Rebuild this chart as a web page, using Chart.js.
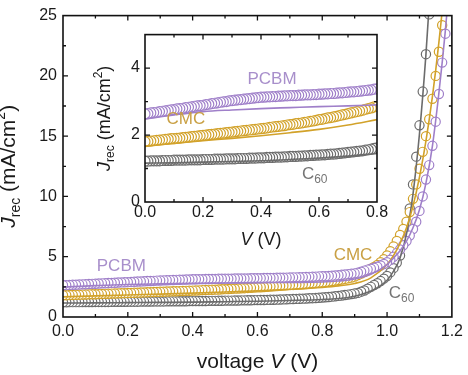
<!DOCTYPE html>
<html>
<head>
<meta charset="utf-8">
<script src="https://cdn.jsdelivr.net/npm/chart.js@4.4.0/dist/chart.umd.min.js"></script>
<style>
  html, body { margin: 0; padding: 0; background: #fff; }
  #wrap { position: relative; width: 468px; height: 375px; overflow: hidden; }
  #main { position: absolute; left: 0; top: 0; }
  #inset { position: absolute; left: 80px; top: 20px; }
</style>
</head>
<body>
<div id="wrap">
  <canvas id="main" width="468" height="375"></canvas>
  <canvas id="inset" width="320" height="250"></canvas>
</div>
<script>
// measured points, 0.01 V apart
const voltage = [
  0.00, 0.01, 0.02, 0.03, 0.04, 0.05, 0.06, 0.07, 0.08, 0.09,
  0.10, 0.11, 0.12, 0.13, 0.14, 0.15, 0.16, 0.17, 0.18, 0.19,
  0.20, 0.21, 0.22, 0.23, 0.24, 0.25, 0.26, 0.27, 0.28, 0.29,
  0.30, 0.31, 0.32, 0.33, 0.34, 0.35, 0.36, 0.37, 0.38, 0.39,
  0.40, 0.41, 0.42, 0.43, 0.44, 0.45, 0.46, 0.47, 0.48, 0.49,
  0.50, 0.51, 0.52, 0.53, 0.54, 0.55, 0.56, 0.57, 0.58, 0.59,
  0.60, 0.61, 0.62, 0.63, 0.64, 0.65, 0.66, 0.67, 0.68, 0.69,
  0.70, 0.71, 0.72, 0.73, 0.74, 0.75, 0.76, 0.77, 0.78, 0.79,
  0.80, 0.81, 0.82, 0.83, 0.84, 0.85, 0.86, 0.87, 0.88, 0.89,
  0.90, 0.91, 0.92, 0.93, 0.94, 0.95, 0.96, 0.97, 0.98, 0.99,
  1.00, 1.01, 1.02, 1.03, 1.04, 1.05, 1.06, 1.07, 1.08, 1.09,
  1.10, 1.11, 1.12, 1.13, 1.14, 1.15, 1.16, 1.17, 1.18, 1.19
];
const pcbm = [
  2.63, 2.64, 2.66, 2.67, 2.68, 2.70, 2.71, 2.72, 2.74, 2.75,
  2.76, 2.78, 2.79, 2.80, 2.82, 2.83, 2.84, 2.86, 2.87, 2.88,
  2.89, 2.91, 2.92, 2.94, 2.95, 2.96, 2.98, 2.99, 3.00, 3.02,
  3.03, 3.04, 3.05, 3.06, 3.07, 3.08, 3.09, 3.10, 3.11, 3.12,
  3.13, 3.13, 3.14, 3.14, 3.15, 3.15, 3.16, 3.16, 3.17, 3.17,
  3.18, 3.18, 3.18, 3.19, 3.19, 3.20, 3.20, 3.20, 3.21, 3.21,
  3.22, 3.22, 3.23, 3.23, 3.24, 3.24, 3.25, 3.26, 3.26, 3.27,
  3.28, 3.29, 3.29, 3.30, 3.31, 3.32, 3.33, 3.34, 3.35, 3.37,
  3.38, 3.39, 3.41, 3.43, 3.45, 3.47, 3.50, 3.53, 3.56, 3.59,
  3.62, 3.68, 3.76, 3.85, 3.93, 4.00, 4.08, 4.17, 4.27, 4.40,
  4.55, 4.75, 5.00, 5.30, 5.60, 5.95, 6.30, 6.75, 7.30, 7.90,
  8.80, 10.0, 11.4, 12.6, 14.2, 16.2, 18.5, 21.1, 23.5, 25.8
];
const cmc = [
  1.80, 1.81, 1.82, 1.83, 1.84, 1.85, 1.86, 1.87, 1.88, 1.89,
  1.89, 1.90, 1.91, 1.92, 1.93, 1.94, 1.95, 1.96, 1.97, 1.98,
  1.99, 2.00, 2.01, 2.02, 2.03, 2.04, 2.05, 2.06, 2.07, 2.08,
  2.09, 2.10, 2.11, 2.12, 2.13, 2.14, 2.15, 2.16, 2.17, 2.18,
  2.19, 2.20, 2.21, 2.23, 2.24, 2.25, 2.26, 2.27, 2.28, 2.30,
  2.31, 2.32, 2.34, 2.35, 2.36, 2.38, 2.39, 2.41, 2.42, 2.44,
  2.46, 2.47, 2.49, 2.51, 2.52, 2.54, 2.56, 2.58, 2.60, 2.62,
  2.64, 2.66, 2.68, 2.70, 2.72, 2.74, 2.77, 2.79, 2.81, 2.84,
  2.86, 2.90, 2.94, 2.98, 3.02, 3.06, 3.11, 3.16, 3.22, 3.28,
  3.35, 3.47, 3.60, 3.73, 3.87, 4.00, 4.15, 4.32, 4.55, 4.80,
  5.10, 5.45, 5.85, 6.30, 6.80, 7.30, 7.90, 8.70, 9.80, 11.0,
  12.3, 13.7, 15.0, 16.4, 18.1, 20.0, 22.0, 24.2, 26.5
];
const c60 = [
  1.22, 1.22, 1.23, 1.23, 1.23, 1.23, 1.24, 1.24, 1.24, 1.24,
  1.25, 1.25, 1.25, 1.25, 1.25, 1.26, 1.26, 1.26, 1.26, 1.26,
  1.27, 1.27, 1.27, 1.27, 1.28, 1.28, 1.28, 1.28, 1.29, 1.29,
  1.29, 1.29, 1.30, 1.30, 1.30, 1.30, 1.31, 1.31, 1.31, 1.32,
  1.32, 1.32, 1.33, 1.33, 1.33, 1.34, 1.34, 1.34, 1.35, 1.35,
  1.36, 1.36, 1.36, 1.37, 1.37, 1.38, 1.38, 1.39, 1.39, 1.40,
  1.40, 1.41, 1.41, 1.42, 1.43, 1.43, 1.44, 1.45, 1.46, 1.47,
  1.48, 1.49, 1.50, 1.51, 1.52, 1.53, 1.55, 1.56, 1.58, 1.60,
  1.62, 1.64, 1.66, 1.69, 1.72, 1.75, 1.78, 1.82, 1.86, 1.90,
  1.95, 2.00, 2.10, 2.20, 2.35, 2.50, 2.65, 2.80, 2.98, 3.18,
  3.40, 3.70, 4.05, 4.50, 5.10, 6.10, 7.50, 9.00, 11.0, 13.3,
  15.9, 18.7, 21.8, 25.1
];

// fitted curves
const fitVoltage = [0, 0.1, 0.2, 0.3, 0.4, 0.5, 0.6, 0.7, 0.8, 0.85, 0.9, 0.95, 1.0, 1.02, 1.04, 1.06, 1.08, 1.1, 1.12, 1.14, 1.16, 1.18, 1.2];
const pcbmFit = [2.48, 2.60, 2.70, 2.75, 2.79, 2.82, 2.85, 2.87, 2.90, 2.98, 3.15, 3.55, 4.35, 4.9, 5.5, 6.3, 7.4, 8.9, 11.1, 14.2, 18.6, 23.8, 30];
const cmcFit = [1.67, 1.75, 1.83, 1.90, 1.98, 2.07, 2.17, 2.30, 2.46, 2.58, 2.78, 3.25, 4.35, 5.1, 6.1, 7.4, 9.2, 11.6, 14.6, 18.3, 22.8, 28.2, 35];
const c60Fit = [1.16, 1.17, 1.19, 1.21, 1.23, 1.27, 1.31, 1.37, 1.45, 1.53, 1.72, 2.15, 3.05, 3.8, 4.9, 6.9, 10.2, 15.2, 21.8, 30, 40, 52, 65];

const seriesNames = ["PCBM", "CMC", "C60"];
const seriesColors = ["#9f7fc9", "#d2a22a", "#6c6c6c"];
const labelColors = ["#a88fcb", "#c9a044", "#757575"];

const FONT = '"Liberation Sans", Arial, sans-serif';
Chart.defaults.font.family = FONT;
Chart.defaults.color = "#1a1a1a";

// text with italic / subscript / superscript pieces
function drawRich(ctx, parts, x, y, size, color, align, rotate) {
  ctx.save();
  ctx.translate(x, y);
  if (rotate) ctx.rotate(-Math.PI / 2);
  const fontFor = (p) => (p.it ? "italic " : "") + Math.round((p.sub || p.sup) ? size * 0.68 : size) + "px " + FONT;
  let w = 0;
  const widths = parts.map((p) => {
    ctx.font = fontFor(p);
    const pw = ctx.measureText(p.t).width;
    w += pw;
    return pw;
  });
  let cx = align === "left" ? 0 : -w / 2;
  ctx.textBaseline = "middle";
  ctx.textAlign = "left";
  ctx.fillStyle = color;
  parts.forEach((p, i) => {
    ctx.font = fontFor(p);
    const dy = p.sub ? size * 0.32 : p.sup ? -size * 0.36 : 0;
    ctx.fillText(p.t, cx, dy);
    cx += widths[i];
  });
  ctx.restore();
}

const jrecTitle = [{ t: "J", it: true }, { t: "rec", sub: true }, { t: " (mA/cm" }, { t: "2", sup: true }, { t: ")" }];
const seriesText = [[{ t: "PCBM" }], [{ t: "CMC" }], [{ t: "C" }, { t: "60", sub: true }]];

// box frame, inward ticks on all four sides, axis titles and series labels
const framePlugin = {
  id: "frame",
  afterDatasetsDraw(chart, args, opts) {
    const { ctx, chartArea: a, scales } = chart;
    const x = scales.x, y = scales.y;
    ctx.save();
    ctx.strokeStyle = "#111";
    ctx.lineWidth = 1.6;
    ctx.strokeRect(a.left, a.top, a.right - a.left, a.bottom - a.top);
    ctx.lineWidth = 1.3;
    const majX = x.ticks.map((t) => t.value);
    const majY = y.ticks.map((t) => t.value);
    const isMaj = (v, list) => list.some((m) => Math.abs(m - v) < 1e-6);
    ctx.beginPath();
    for (let v = x.min; v <= x.max + 1e-9; v += opts.xMinor) {
      const px = x.getPixelForValue(v);
      if (px <= a.left + 1 || px >= a.right - 1) continue;
      const len = isMaj(v, majX) ? 5 : 3;
      ctx.moveTo(px, a.bottom); ctx.lineTo(px, a.bottom - len);
      ctx.moveTo(px, a.top); ctx.lineTo(px, a.top + len);
    }
    for (let v = y.min; v <= y.max + 1e-9; v += opts.yMinor) {
      const py = y.getPixelForValue(v);
      if (py <= a.top + 1 || py >= a.bottom - 1) continue;
      const len = isMaj(v, majY) ? 5 : 3;
      ctx.moveTo(a.left, py); ctx.lineTo(a.left + len, py);
      ctx.moveTo(a.right, py); ctx.lineTo(a.right - len, py);
    }
    ctx.stroke();
    ctx.restore();

    const cxm = (a.left + a.right) / 2, cym = (a.top + a.bottom) / 2;
    drawRich(ctx, opts.xTitle, cxm, a.bottom + opts.xTitleGap, opts.titleSize, "#1a1a1a", "center", false);
    drawRich(ctx, jrecTitle, a.left - opts.yTitleGap, cym, opts.titleSize, "#1a1a1a", "center", true);

    opts.labels.forEach((l, i) => {
      drawRich(ctx, seriesText[i], x.getPixelForValue(l[0]), y.getPixelForValue(l[1]), 17, labelColors[i], i === 2 ? "left" : "center", false);
    });
  }
};

function markerSet(vals, maxV, i, radius) {
  const pts = [];
  vals.forEach((v, k) => {
    if (voltage[k] <= maxV + 1e-9) pts.push({ x: voltage[k], y: v });
  });
  pts.reverse(); // sweep drawn from high to low voltage
  return {
    label: seriesNames[i],
    data: pts,
    showLine: false,
    pointRadius: radius,
    pointBorderWidth: 1.2,
    pointBackgroundColor: "#fff",
    pointBorderColor: seriesColors[i],
    clip: 0
  };
}

function fitSet(vals, maxV, i) {
  const pts = [];
  vals.forEach((v, k) => {
    if (fitVoltage[k] <= maxV + 1e-9) pts.push({ x: fitVoltage[k], y: v });
  });
  return {
    label: seriesNames[i] + " fit",
    data: pts,
    showLine: true,
    pointRadius: 0,
    borderWidth: 1.6,
    borderColor: seriesColors[i],
    cubicInterpolationMode: "monotone",
    clip: 0
  };
}

const allSeries = [pcbm, cmc, c60];
const allFits = [pcbmFit, cmcFit, c60Fit];

function buildDatasets(maxV, radius) {
  const lines = allFits.map((f, i) => fitSet(f, maxV, i));
  const marks = allSeries.map((s, i) => markerSet(s, maxV, i, radius));
  return [...lines, ...marks];
}

function axisOpts(min, max, step, pad, fmt, fixedSize, horizontal) {
  return {
    type: "linear",
    min: min,
    max: max,
    grid: { display: false, drawTicks: false },
    border: { display: false },
    ticks: {
      stepSize: step,
      padding: pad,
      maxRotation: 0,
      includeBounds: false,
      font: { size: 16 },
      color: "#1a1a1a",
      callback: (v) => fmt(v)
    },
    afterFit: (s) => {
      if (horizontal) s.height = fixedSize; else s.width = fixedSize;
    }
  };
}

const baseOpts = {
  responsive: false,
  animation: false,
  devicePixelRatio: 1,
  events: []
};

new Chart(document.getElementById("main"), {
  type: "scatter",
  data: { datasets: buildDatasets(1.2, 4.6) },
  options: {
    ...baseOpts,
    layout: { padding: { left: 0, top: 7, right: 11, bottom: 0 } },
    plugins: {
      legend: { display: false },
      tooltip: { enabled: false },
      frame: {
        xMinor: 0.1, yMinor: 2.5,
        xTitle: [{ t: "voltage " }, { t: "V", it: true }, { t: " (V)" }],
        titleSize: 21, xTitleGap: 45, yTitleGap: 54,
        labels: [[0.18, 4.2], [0.895, 5.1], [1.005, 1.94]]
      }
    },
    scales: {
      x: axisOpts(0, 1.2, 0.2, 5, (v) => v.toFixed(1), 58, true),
      y: axisOpts(0, 25, 5, 6, (v) => String(v), 63, false)
    }
  },
  plugins: [framePlugin]
});

new Chart(document.getElementById("inset"), {
  type: "scatter",
  data: { datasets: buildDatasets(0.8, 5) },
  options: {
    ...baseOpts,
    layout: { padding: { left: 0, top: 10, right: 23, bottom: 0 } },
    plugins: {
      legend: { display: false },
      tooltip: { enabled: false },
      frame: {
        xMinor: 0.1, yMinor: 1,
        xTitle: [{ t: "V", it: true }, { t: " (V)" }],
        titleSize: 18, xTitleGap: 38, yTitleGap: 40,
        labels: [[0.438, 3.65], [0.141, 2.47], [0.541, 0.83]]
      }
    },
    scales: {
      x: axisOpts(0, 0.8, 0.2, 1, (v) => v.toFixed(1), 68, true),
      y: axisOpts(0, 5, 2, 5, (v) => String(v), 65, false)
    }
  },
  plugins: [framePlugin]
});
</script>
</body>
</html>
